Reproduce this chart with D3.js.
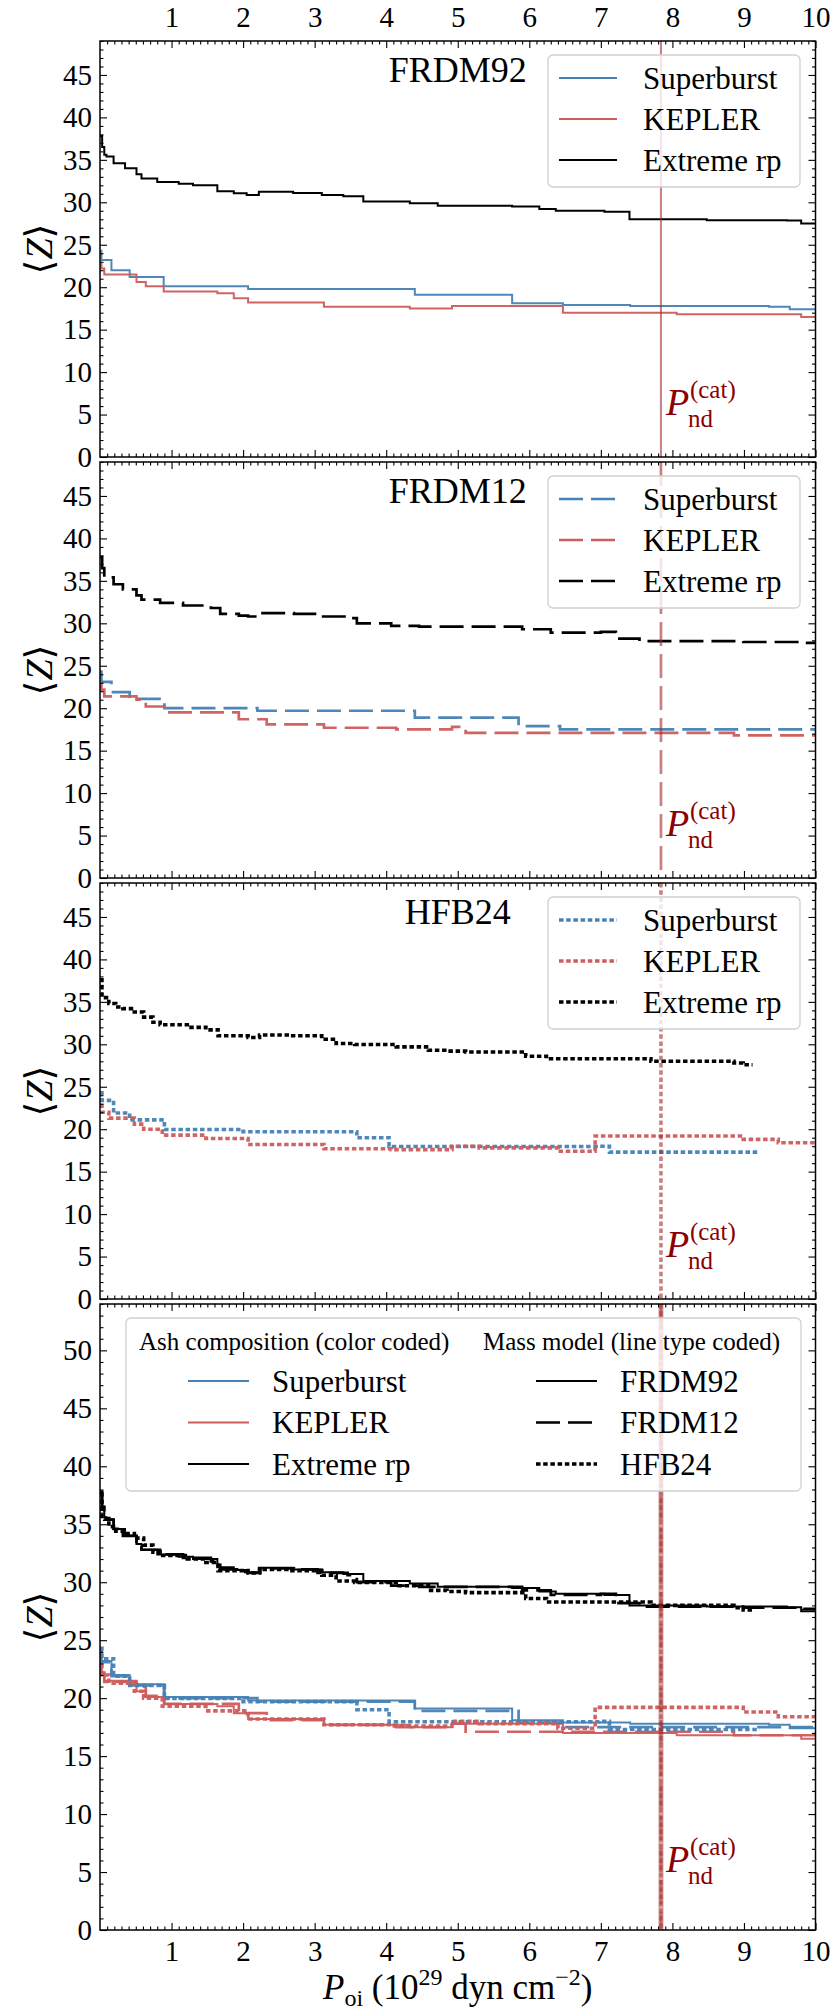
<!DOCTYPE html>
<html>
<head>
<meta charset="utf-8">
<script src="https://cdn.jsdelivr.net/npm/d3@7"></script>
<style>
  body { margin: 0; background: #fff; }
  svg text { font-family: "Liberation Serif", "DejaVu Serif", serif !important; }
</style>
</head>
<body>
<div class="canvas"></div>
<script>
// ---- data, step-after curves: P_oi vs <Z>
const models = ['FRDM92', 'FRDM12', 'HFB24'];
const ashes = ['Superburst', 'KEPLER', 'Extreme rp'];
const ashColours = ['#4682b4', '#cd5c5c', '#000000'];
const xTicks = [1, 2, 3, 4, 5, 6, 7, 8, 9, 10];
const pCat = 7.84;

// FRDM92
const frdm92SbP = [0, 0.02, 0.16, 0.415, 0.89, 2.07, 4.40, 5.76, 6.47, 7.41, 9.35, 9.64, 10];
const frdm92SbZ = [24.3, 23.2, 22.0, 21.2, 20.1, 19.8, 19.1, 18.1, 17.9, 17.8, 17.7, 17.4, 17.4];
const frdm92KpP = [0, 0.02, 0.06, 0.51, 0.64, 0.89, 1.64, 1.87, 2.07, 3.13, 4.33, 4.92, 6.47, 8.06, 9.80, 10];
const frdm92KpZ = [22.8, 22.2, 21.5, 20.6, 20.1, 19.5, 19.3, 18.7, 18.2, 17.7, 17.5, 17.8, 17.0, 16.8, 16.5, 16.5];
const frdm92RpP = [0, 0.03, 0.06, 0.09, 0.19, 0.35, 0.51, 0.58, 0.80, 1.10, 1.30, 1.64, 1.87, 2.05, 2.22, 2.70, 3.10, 3.40, 3.68, 4.33, 4.72, 5.76, 6.14, 6.37, 7.05, 7.40, 8.48, 9.60, 9.80, 10];
const frdm92RpZ = [37.8, 36.5, 35.6, 35.4, 34.6, 34.0, 33.3, 32.8, 32.4, 32.2, 32.0, 31.3, 31.06, 30.86, 31.25, 31.1, 30.86, 30.7, 30.1, 29.9, 29.6, 29.5, 29.2, 29.0, 28.9, 28.0, 27.9, 27.85, 27.5, 27.5];

// FRDM12
const frdm12SbP = [0, 0.02, 0.16, 0.415, 0.90, 2.20, 4.40, 5.85, 6.43, 10];
const frdm12SbZ = [24.3, 23.1, 21.9, 21.1, 20.0, 19.7, 18.9, 17.9, 17.5, 17.5];
const frdm12KpP = [0, 0.02, 0.06, 0.51, 0.64, 0.90, 1.94, 2.33, 3.13, 4.14, 4.92, 5.11, 8.86, 10];
const frdm12KpZ = [22.8, 22.2, 21.4, 21.0, 20.2, 19.5, 18.7, 18.1, 17.7, 17.5, 17.8, 17.1, 16.8, 16.8];
const frdm12RpP = [0, 0.03, 0.06, 0.19, 0.32, 0.51, 0.58, 0.84, 1.16, 1.55, 1.68, 1.94, 2.07, 2.24, 2.71, 3.04, 3.46, 3.59, 4.07, 4.46, 5.90, 6.30, 7.00, 7.21, 7.54, 8.99, 9.83, 10];
const frdm12RpZ = [37.8, 36.5, 35.4, 34.6, 34.0, 33.3, 32.8, 32.4, 32.1, 31.8, 31.1, 30.9, 30.8, 31.2, 31.1, 30.8, 30.6, 30.0, 29.7, 29.6, 29.3, 28.9, 29.0, 28.2, 27.9, 27.8, 27.7, 27.7];

// HFB24
const hfb24SbP = [0, 0.027, 0.19, 0.415, 0.90, 2.0, 3.59, 4.04, 6.98, 7.12, 9.22];
const hfb24SbZ = [24.3, 23.4, 21.9, 21.1, 19.97, 19.7, 19.0, 17.96, 18.0, 17.3, 17.3];
const hfb24KpP = [0, 0.027, 0.124, 0.48, 0.61, 0.87, 1.48, 2.07, 3.13, 4.07, 4.92, 5.30, 6.40, 6.92, 8.99, 9.48, 10];
const hfb24KpZ = [22.8, 22.0, 21.3, 20.6, 20.0, 19.3, 18.9, 18.2, 17.7, 17.6, 18.0, 17.8, 17.4, 19.2, 18.8, 18.4, 18.4];
const hfb24RpP = [0, 0.027, 0.124, 0.22, 0.32, 0.48, 0.61, 0.74, 0.84, 1.22, 1.48, 1.65, 2.07, 2.23, 2.65, 3.10, 3.30, 3.56, 4.14, 4.59, 4.85, 5.11, 5.95, 6.24, 7.70, 8.86, 8.99, 9.12];
const hfb24RpZ = [37.6, 35.5, 34.8, 34.4, 34.2, 33.8, 33.2, 32.6, 32.3, 32.0, 31.7, 31.0, 30.8, 31.1, 31.0, 30.6, 30.1, 29.98, 29.7, 29.3, 29.2, 29.1, 28.6, 28.3, 28.0, 27.8, 27.6, 27.6];

// [model][ash] -> points
const zipPts = (p, z) => p.map((v, i) => [v, z[i]]);
const series = [
  [zipPts(frdm92SbP, frdm92SbZ), zipPts(frdm92KpP, frdm92KpZ), zipPts(frdm92RpP, frdm92RpZ)],
  [zipPts(frdm12SbP, frdm12SbZ), zipPts(frdm12KpP, frdm12KpZ), zipPts(frdm12RpP, frdm12RpZ)],
  [zipPts(hfb24SbP, hfb24SbZ), zipPts(hfb24KpP, hfb24KpZ), zipPts(hfb24RpP, hfb24RpZ)]
];

// line type per mass model
const lineStyles = [
  { dash: null, width: 2 },
  { dash: '24,8', width: 2.7 },
  { dash: '4.5,2.7', width: 3.6 }
];

const serif = '"Liberation Serif", "DejaVu Serif", serif';

// ---- layout
const dims = { width: 831, height: 2011, left: 100, right: 815.5 };
const panels = [
  { top: 41, height: 416, ymax: 49, models: [0], title: 'FRDM92' },
  { top: 462, height: 416, ymax: 49, models: [1], title: 'FRDM12' },
  { top: 883, height: 416, ymax: 49, models: [2], title: 'HFB24' },
  { top: 1304, height: 626, ymax: 54, models: [0, 1, 2], title: null }
];

const svg = d3.select('.canvas')
  .append('svg')
  .attr('width', dims.width)
  .attr('height', dims.height)
  .attr('font-family', serif);

const x = d3.scaleLinear().domain([0, 10]).range([dims.left, dims.right]);
const majorX = xTicks;
const minorX = d3.range(1, 100).map(d => d / 10).filter(d => Math.abs(d - Math.round(d)) > 1e-6);

const stepLine = (yScale) => d3.line()
  .x(d => x(d[0]))
  .y(d => yScale(d[1]))
  .curve(d3.curveStepAfter);

const styleAxis = (g, size) => {
  g.attr('font-family', serif);
  g.select('.domain').remove();
  g.selectAll('line').attr('stroke', '#000').attr('stroke-width', 1.1);
  g.selectAll('text')
    .attr('fill', '#000')
    .attr('font-family', serif)
    .style('font-size', size + 'px');
};

panels.forEach((p, pi) => {
  const bottom = p.top + p.height;
  const y = d3.scaleLinear().domain([0, p.ymax]).range([bottom, p.top]);
  const majorY = d3.range(0, p.ymax + 0.1, 5);
  const minorY = d3.range(0, p.ymax + 0.1, 1).filter(d => d % 5 !== 0);
  const isLast = pi === panels.length - 1;

  const clipId = 'clip' + pi;
  svg.append('clipPath').attr('id', clipId)
    .append('rect')
    .attr('x', dims.left).attr('y', p.top)
    .attr('width', dims.right - dims.left).attr('height', p.height);

  const graph = svg.append('g');
  const plot = graph.append('g').attr('clip-path', `url(#${clipId})`);

  // curves
  p.models.forEach(mi => {
    series[mi].forEach((pts, ai) => {
      plot.append('path')
        .attr('d', stepLine(y)(pts))
        .attr('fill', 'none')
        .attr('stroke', ashColours[ai])
        .attr('stroke-width', lineStyles[mi].width)
        .attr('stroke-dasharray', lineStyles[mi].dash)
        .attr('stroke-opacity', ai === 2 ? 1 : 0.95);
    });
  });

  // catastrophic line(s)
  const catModels = p.models.length > 1 ? [0, 1, 2] : p.models;
  catModels.forEach(mi => {
    const w = p.models.length > 1 ? [5, 3, 3.6][mi] : lineStyles[mi].width;
    plot.append('line')
      .attr('x1', x(pCat)).attr('x2', x(pCat))
      .attr('y1', p.top).attr('y2', bottom)
      .attr('stroke', '#a52a2a')
      .attr('stroke-opacity', p.models.length > 1 ? 0.45 : 0.6)
      .attr('stroke-width', w)
      .attr('stroke-dasharray', lineStyles[mi].dash);
  });

  // annotation P_nd^(cat)
  const ax = x(pCat) + 5, ay = y(5);
  const ann = graph.append('g').attr('fill', '#8b0000');
  ann.append('text').attr('x', ax).attr('y', ay)
    .style('font-size', '38px').style('font-style', 'italic').text('P');
  ann.append('text').attr('x', ax + 24).attr('y', ay - 17)
    .style('font-size', '25px').text('(cat)');
  ann.append('text').attr('x', ax + 22).attr('y', ay + 12)
    .style('font-size', '25px').text('nd');

  // axes: ticks inward on all sides
  const xb = graph.append('g').attr('transform', `translate(0,${bottom})`)
    .call(d3.axisBottom(x).tickValues(majorX).tickSize(-7).tickPadding(10)
      .tickFormat(isLast ? d3.format('d') : ''));
  styleAxis(xb, 29);
  const xbm = graph.append('g').attr('transform', `translate(0,${bottom})`)
    .call(d3.axisBottom(x).tickValues(minorX).tickSize(-3.5).tickFormat(''));
  styleAxis(xbm, 29);

  const xt = graph.append('g').attr('transform', `translate(0,${p.top})`)
    .call(d3.axisTop(x).tickValues(majorX).tickSize(-7).tickPadding(14)
      .tickFormat(pi === 0 ? d3.format('d') : ''));
  styleAxis(xt, 29);
  const xtm = graph.append('g').attr('transform', `translate(0,${p.top})`)
    .call(d3.axisTop(x).tickValues(minorX).tickSize(-3.5).tickFormat(''));
  styleAxis(xtm, 29);

  const yl = graph.append('g').attr('transform', `translate(${dims.left},0)`)
    .call(d3.axisLeft(y).tickValues(majorY).tickSize(-7).tickPadding(8).tickFormat(d3.format('d')));
  styleAxis(yl, 29);
  const ylm = graph.append('g').attr('transform', `translate(${dims.left},0)`)
    .call(d3.axisLeft(y).tickValues(minorY).tickSize(-3.5).tickFormat(''));
  styleAxis(ylm, 29);

  const yr = graph.append('g').attr('transform', `translate(${dims.right},0)`)
    .call(d3.axisRight(y).tickValues(majorY).tickSize(-7).tickFormat(''));
  styleAxis(yr, 29);
  const yrm = graph.append('g').attr('transform', `translate(${dims.right},0)`)
    .call(d3.axisRight(y).tickValues(minorY).tickSize(-3.5).tickFormat(''));
  styleAxis(yrm, 29);

  // frame
  graph.append('rect')
    .attr('x', dims.left).attr('y', p.top)
    .attr('width', dims.right - dims.left).attr('height', p.height)
    .attr('fill', 'none').attr('stroke', '#000').attr('stroke-width', 1.5);

  // y label
  graph.append('text')
    .attr('transform', `translate(52,${p.top + p.height / 2}) rotate(-90)`)
    .attr('text-anchor', 'middle')
    .style('font-size', '38px')
    .html('\u27E8<tspan style="font-style:italic">Z</tspan>\u27E9');

  // panel title
  if (p.title) {
    graph.append('text')
      .attr('x', x(5)).attr('y', p.top + 41)
      .attr('text-anchor', 'middle')
      .style('font-size', '36px')
      .text(p.title);
  }

  // legend
  const legend = graph.append('g');
  if (!isLast) {
    const mi = p.models[0];
    legend.append('rect')
      .attr('x', 548).attr('y', p.top + 14)
      .attr('width', 252).attr('height', 132).attr('rx', 5)
      .attr('fill', '#fff').attr('fill-opacity', 0.8)
      .attr('stroke', '#d0d0d0').attr('stroke-width', 1.3);
    ashes.forEach((name, ai) => {
      const ry = p.top + 37 + ai * 41;
      legend.append('line')
        .attr('x1', 559).attr('x2', 617).attr('y1', ry).attr('y2', ry)
        .attr('stroke', ashColours[ai])
        .attr('stroke-width', lineStyles[mi].width)
        .attr('stroke-dasharray', lineStyles[mi].dash);
      legend.append('text')
        .attr('x', 643).attr('y', ry + 10.5)
        .style('font-size', '31px')
        .text(name);
    });
  } else {
    legend.append('rect')
      .attr('x', 126).attr('y', p.top + 14)
      .attr('width', 675).attr('height', 173).attr('rx', 5)
      .attr('fill', '#fff').attr('fill-opacity', 0.8)
      .attr('stroke', '#d0d0d0').attr('stroke-width', 1.3);
    legend.append('text').attr('x', 139).attr('y', p.top + 46)
      .style('font-size', '25px').text('Ash composition (color coded)');
    legend.append('text').attr('x', 483).attr('y', p.top + 46)
      .style('font-size', '25px').text('Mass model (line type coded)');
    ashes.forEach((name, ai) => {
      const ry = p.top + 77 + ai * 41.5;
      legend.append('line')
        .attr('x1', 188).attr('x2', 249).attr('y1', ry).attr('y2', ry)
        .attr('stroke', ashColours[ai]).attr('stroke-width', 2);
      legend.append('text')
        .attr('x', 272).attr('y', ry + 10.5)
        .style('font-size', '31px').text(name);
    });
    models.forEach((name, mi) => {
      const ry = p.top + 77 + mi * 41.5;
      legend.append('line')
        .attr('x1', 536).attr('x2', 597).attr('y1', ry).attr('y2', ry)
        .attr('stroke', '#000')
        .attr('stroke-width', lineStyles[mi].width)
        .attr('stroke-dasharray', lineStyles[mi].dash);
      legend.append('text')
        .attr('x', 620).attr('y', ry + 10.5)
        .style('font-size', '31px').text(name);
    });
  }
});

// x axis title
const xTitle = svg.append('text')
  .attr('x', (dims.left + dims.right) / 2).attr('y', 1999)
  .attr('text-anchor', 'middle')
  .style('font-size', '35px');
xTitle.append('tspan').style('font-style', 'italic').text('P');
xTitle.append('tspan').attr('dy', 7).style('font-size', '24px').text('oi');
xTitle.append('tspan').attr('dy', -7).text(' (10');
xTitle.append('tspan').attr('dy', -14).style('font-size', '24px').text('29');
xTitle.append('tspan').attr('dy', 14).text(' dyn cm');
xTitle.append('tspan').attr('dy', -14).style('font-size', '24px').text('\u22122');
xTitle.append('tspan').attr('dy', 14).text(')');
</script>
</body>
</html>
